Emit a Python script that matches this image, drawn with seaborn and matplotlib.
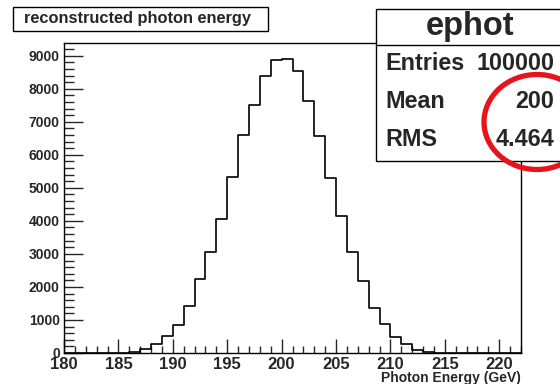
import numpy as np
import matplotlib
matplotlib.use("Agg")
import matplotlib.pyplot as plt
import seaborn as sns
from matplotlib.patches import Rectangle, Ellipse
from matplotlib.lines import Line2D
from matplotlib.ticker import MultipleLocator

# ---- data ----
bin_edges = list(range(180, 223))
bin_lows = list(range(185, 215))
counts = [10, 30, 130, 280, 500, 840, 1420, 2230, 3050, 4070,
          5320, 6600, 7500, 8390, 8870, 8910, 8525, 7620, 6555, 5310,
          4160, 3070, 2180, 1350, 875, 475, 270, 100, 25, 10]
title_text = "reconstructed photon energy"
stats_name = "ephot"
stats_labels = ["Entries", "Mean", "RMS"]
stats_values = ["100000", "200", "4.464"]
xlabel = "Photon Energy (GeV)"

sns.set_style("white")
plt.rcParams['font.family'] = ['Liberation Sans', 'DejaVu Sans']
plt.rcParams['font.weight'] = 'bold'

W, H = 560, 384
fig = plt.figure(figsize=(W / 100, H / 100), dpi=100)
fig.patch.set_facecolor('white')

def fx(px):
    return px / W

def fy(py):
    return 1 - py / H

left, right, top, bottom = 64, 521, 43, 353
ax = fig.add_axes([fx(left), fy(bottom), (right - left) / W, (bottom - top) / H])

centers = [b + 0.5 for b in bin_lows]
sns.histplot(x=centers, weights=counts, bins=bin_edges, element="step",
             fill=False, color="black", linewidth=1.2, ax=ax)

ax.set_xlim(180, 222)
ax.set_ylim(0, 9385)
ax.set_ylabel("")
ax.set_xlabel("")
ax.xaxis.set_major_locator(MultipleLocator(5))
ax.xaxis.set_minor_locator(MultipleLocator(1))
ax.yaxis.set_major_locator(MultipleLocator(1000))
ax.yaxis.set_minor_locator(MultipleLocator(200))
ax.tick_params(axis='x', which='major', direction='in', length=10, width=1,
               labelsize=12, pad=3, bottom=True, top=False)
ax.tick_params(axis='x', which='minor', direction='in', length=5, width=1,
               bottom=True, top=False)
ax.tick_params(axis='y', which='major', direction='in', length=14, width=1,
               labelsize=10, pad=3, left=True, right=False)
ax.tick_params(axis='y', which='minor', direction='in', length=7, width=1,
               left=True, right=False)
for lab in ax.get_xticklabels() + ax.get_yticklabels():
    lab.set_fontweight('bold')
for s in ax.spines.values():
    s.set_visible(True)
    s.set_color('black')
    s.set_linewidth(1)

fig.text(fx(521), fy(378), xlabel, ha='right', va='center', fontsize=10,
         fontweight='bold')

# title box
fig.patches.append(Rectangle((fx(13), fy(31)), (268 - 13) / W, (31 - 7) / H,
                             transform=fig.transFigure, facecolor='white',
                             edgecolor='black', linewidth=1, zorder=5))
fig.text(fx(137), fy(19), title_text, ha='center', va='center', fontsize=11.8,
         fontweight='bold', zorder=6)

# stats box
fig.patches.append(Rectangle((fx(376), fy(161)), (565 - 376) / W, (161 - 9) / H,
                             transform=fig.transFigure, facecolor='white',
                             edgecolor='black', linewidth=1, zorder=5))
fig.lines.append(Line2D([fx(376), fx(565)], [fy(45), fy(45)],
                        transform=fig.transFigure, color='black', linewidth=1,
                        zorder=6))
fig.text(fx(470), fy(27), stats_name, ha='center', va='center', fontsize=23.5,
         fontweight='bold', zorder=7)
row_y = [63, 102, 140]
for lab, val, yy in zip(stats_labels, stats_values, row_y):
    fig.text(fx(385), fy(yy), lab, ha='left', va='center', fontsize=16.8,
             fontweight='bold', zorder=7)
    fig.text(fx(554), fy(yy), val, ha='right', va='center', fontsize=16.8,
             fontweight='bold', zorder=7)

# red circle
fig.patches.append(Ellipse((fx(537), fy(122)), 106 / W, 95 / H,
                           transform=fig.transFigure, facecolor='none',
                           edgecolor='#e8141c', linewidth=3.8, zorder=8))

fig.savefig("out.png", dpi=100, facecolor='white')
